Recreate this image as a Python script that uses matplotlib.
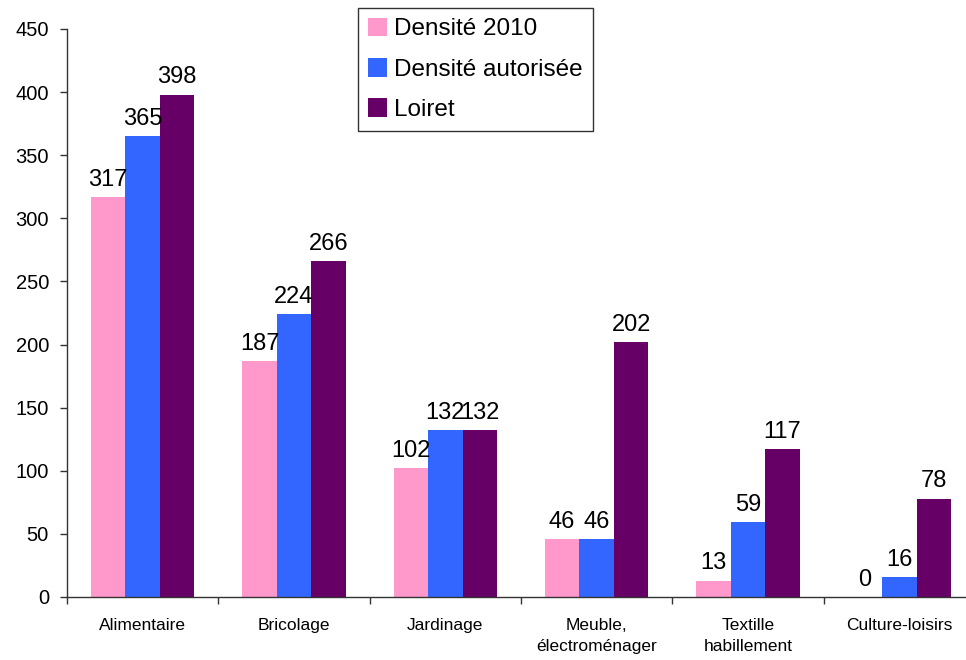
import matplotlib.pyplot as plt
import numpy as np

plt.rcParams['font.family'] = ['Liberation Sans', 'DejaVu Sans']

# données
categories = ['Alimentaire', 'Bricolage', 'Jardinage', 'Meuble,\nélectroménager',
              'Textille\nhabillement', 'Culture-loisirs']
densite_2010 = [317, 187, 102, 46, 13, 0]
densite_autorisee = [365, 224, 132, 46, 59, 16]
loiret = [398, 266, 132, 202, 117, 78]

series = [
    ('Densité 2010', densite_2010, '#FF99CC'),
    ('Densité autorisée', densite_autorisee, '#3366FF'),
    ('Loiret', loiret, '#660066'),
]

fig = plt.figure(figsize=(9.66, 6.6), dpi=100)
ax = fig.add_axes([0.0694, 0.0955, 0.9399, 0.8606])

x = np.arange(len(categories)) + 0.5
w = 0.228
for k, (nom, vals, couleur) in enumerate(series):
    pos = x + (k - 1) * w
    ax.bar(pos, vals, width=w, color=couleur, label=nom, linewidth=0)
    for p, v in zip(pos, vals):
        ax.annotate(str(v), (p, v), xytext=(0, 8), textcoords='offset points',
                    ha='center', va='baseline', fontsize=17)

ax.set_xlim(0, len(categories))
ax.set_ylim(0, 450)
ax.set_yticks(range(0, 451, 50))

# graduations aux limites des catégories, libellés au centre
ax.set_xticks(x)
ax.set_xticklabels(categories, fontsize=12.5, linespacing=1.5)
ax.set_xticks(np.arange(len(categories) + 1), minor=True)
ax.tick_params(axis='x', which='major', length=0, pad=15)
ax.tick_params(axis='x', which='minor', length=5, width=1, color='#333333', direction='out')
ax.tick_params(axis='y', length=5, width=1, color='#333333', direction='out',
               pad=8, labelsize=14.5)

for s in ['top', 'right']:
    ax.spines[s].set_visible(False)
for s in ['left', 'bottom']:
    ax.spines[s].set_color('#333333')
    ax.spines[s].set_linewidth(1)

leg = ax.legend(loc='upper left', bbox_to_anchor=(358 / 966, 1 - 8 / 660),
                bbox_transform=fig.transFigure, borderaxespad=0, fontsize=17.5,
                frameon=True, fancybox=False, shadow=False,
                handlelength=0.8, handleheight=0.8, handletextpad=0.3,
                labelspacing=0.72, borderpad=0.4)
leg.get_frame().set_edgecolor('black')
leg.get_frame().set_linewidth(1)

fig.savefig('out.png', dpi=100)
